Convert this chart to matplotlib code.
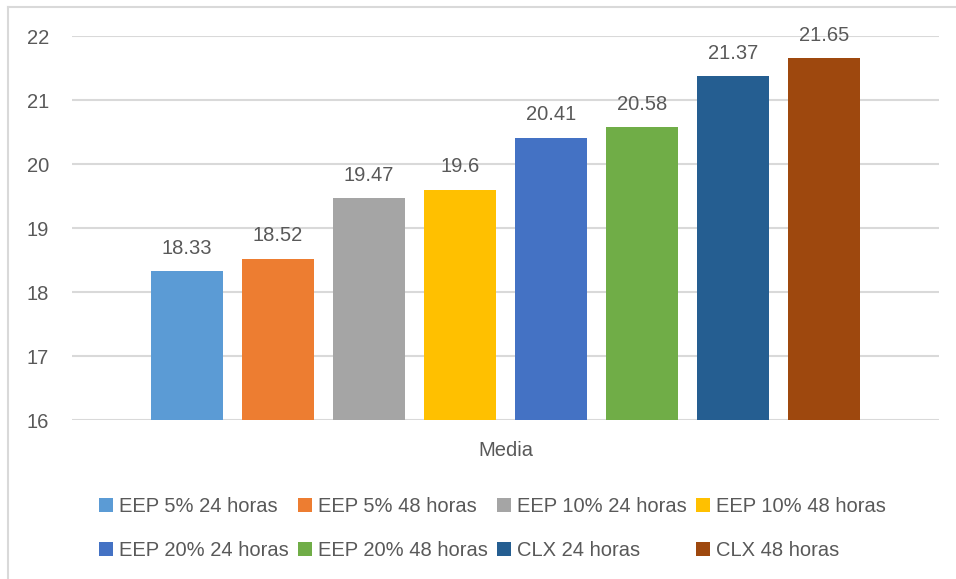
import matplotlib
matplotlib.use("Agg")
import matplotlib.pyplot as plt
from matplotlib.patches import Rectangle
from matplotlib.lines import Line2D

# Mean values per treatment
series = ["EEP 5% 24 horas", "EEP 5% 48 horas", "EEP 10% 24 horas", "EEP 10% 48 horas",
          "EEP 20% 24 horas", "EEP 20% 48 horas", "CLX 24 horas", "CLX 48 horas"]
values = [18.33, 18.52, 19.47, 19.6, 20.41, 20.58, 21.37, 21.65]
colors = ["#5B9BD5", "#ED7D31", "#A5A5A5", "#FFC000",
          "#4472C4", "#70AD47", "#255E91", "#9E480E"]
category = "Media"
y_ticks = [16, 17, 18, 19, 20, 21, 22]

W, H = 956, 579
DPI = 100
TEXT = "#595959"
GRID = "#D9D9D9"
FONT = "Liberation Sans"
FS = 14.5

plt.rcParams["font.family"] = [FONT, "DejaVu Sans"]

fig = plt.figure(figsize=(W / DPI, H / DPI), dpi=DPI)
fig.patch.set_facecolor("white")

# plot area in pixel coordinates
left_px, right_px, top_px, bottom_px = 72, 939, 36, 420
ax = fig.add_axes([left_px / W, 1 - bottom_px / H,
                   (right_px - left_px) / W, (bottom_px - top_px) / H])

n = len(values)
bar_w = 72 / 91
positions = [i - (n - 1) / 2 for i in range(n)]
ax.bar(positions, [v - y_ticks[0] for v in values], bottom=y_ticks[0],
       width=bar_w, color=colors, zorder=3)

for x, v in zip(positions, values):
    ax.annotate(f"{v:g}", xy=(x, v), xytext=(0, 12.5), textcoords="offset points",
                ha="center", va="baseline", fontsize=FS, color=TEXT)

margin = bar_w / 2 + 79 / 91
ax.set_xlim(positions[0] - margin, positions[-1] + margin)
ax.set_ylim(y_ticks[0], y_ticks[-1])
ax.set_yticks(y_ticks)
ax.set_yticklabels([str(t) for t in y_ticks])
ax.set_xticks([])
ax.tick_params(axis="y", length=0, pad=16.5, labelsize=FS, labelcolor=TEXT)
ax.grid(axis="y", color=GRID, linewidth=1.5, zorder=0)
for s in ax.spines.values():
    s.set_visible(False)
ax.set_facecolor("white")

# category label under the axis
fig.text(505.5 / W, 1 - 451 / H, category, ha="center", va="center",
         fontsize=FS, color=TEXT)

# legend: 4 columns, 2 rows
col_x0, col_step = 99, 199
row_y0, row_step = 504.5, 44.5
sq = 14
for i, (name, c) in enumerate(zip(series, colors)):
    col, row = i % 4, i // 4
    x = col_x0 + col * col_step
    y = row_y0 + row * row_step
    fig.patches.append(Rectangle((x / W, 1 - (y + sq / 2) / H), sq / W, sq / H,
                                 transform=fig.transFigure, facecolor=c,
                                 edgecolor="none", figure=fig))
    fig.text((x + sq + 6) / W, 1 - y / H, name, ha="left", va="center_baseline",
             fontsize=FS, color=TEXT)

# chart border (top and left edges visible)
fig.add_artist(Line2D([8 / W, 1.0], [1 - 7 / H, 1 - 7 / H],
                      transform=fig.transFigure, color=GRID, linewidth=1.5))
fig.add_artist(Line2D([8 / W, 8 / W], [0.0, 1 - 7 / H],
                      transform=fig.transFigure, color=GRID, linewidth=1.5))

fig.savefig("out.png", dpi=DPI, facecolor="white")
